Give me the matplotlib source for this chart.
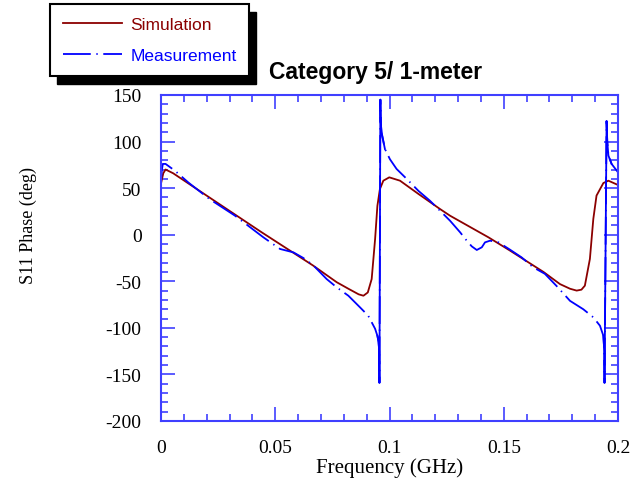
import matplotlib
matplotlib.use("Agg")
import matplotlib.pyplot as plt
from matplotlib.patches import Rectangle
from matplotlib.ticker import MultipleLocator

# simulated S11 phase (deg) vs frequency (GHz)
sim_f = [0, 0.001, 0.002, 0.0053, 0.0438, 0.0665, 0.0769, 0.082, 0.0865, 0.0886,
         0.0905, 0.0922, 0.0937, 0.0947, 0.0958, 0.0973, 0.0999, 0.1046, 0.1127,
         0.1221, 0.1265, 0.1433, 0.1527, 0.1674, 0.1746, 0.179, 0.1819, 0.184,
         0.1855, 0.1877, 0.1892, 0.1906, 0.1936, 0.1958, 0.2]
sim_deg = [55, 66, 70, 66, 3, -33, -51, -58, -64, -65.5,
           -62, -47.6, -4.6, 31, 49, 58, 61.6, 58, 43.7,
           27.6, 20.4, -2.8, -17, -40, -53, -58, -60, -59,
           -54.7, -26, 17, 42, 55.5, 58, 53.4]

# measured S11 phase
meas_f = [0, 0.0004, 0.0008, 0.002, 0.0061, 0.012, 0.0214, 0.0324, 0.0419, 0.0448,
          0.049, 0.0521, 0.058, 0.0623, 0.0667, 0.0725, 0.0769, 0.082, 0.0871, 0.0907,
          0.0937, 0.0947, 0.0952, 0.0955, 0.0956, 0.096, 0.0962, 0.0965, 0.098, 0.1002,
          0.1031, 0.1075, 0.1127, 0.1177, 0.1221, 0.1265, 0.1309, 0.1338, 0.136, 0.1382,
          0.1404, 0.1418, 0.144, 0.1477, 0.1527, 0.1578, 0.1629, 0.168, 0.1731, 0.179,
          0.1848, 0.1892, 0.1921, 0.1936, 0.194, 0.1941, 0.195, 0.1953, 0.1958, 0.1972, 0.2]
meas_deg = [58, 70, 76, 76, 68.7, 56, 38, 20.4, 2.6, -2.8,
            -10, -15.3, -19, -25, -33, -47.6, -56.5, -65.5, -78, -87,
            -101, -108.5, -115, -125, -159, 145, 120, 110, 92, 81,
            70.6, 60, 47, 36.5, 25.8, 15, 2.6, -6.4, -12.5, -16.4,
            -13.5, -8.2, -6.4, -8.2, -16, -24.3, -35, -42, -55, -71,
            -80, -88.7, -97.7, -108.5, -125, -159, 122, 100, 85, 76, 67]

xticks = [0, 0.05, 0.1, 0.15, 0.2]
xtick_labels = ["0", "0.05", "0.1", "0.15", "0.2"]
yticks = [-200, -150, -100, -50, 0, 50, 100, 150]

plt.rcParams['lines.scale_dashes'] = False
plt.rcParams['axes.unicode_minus'] = False
serif = ['Liberation Serif', 'DejaVu Serif']
sans = ['Liberation Sans', 'DejaVu Sans']
axis_blue = '#3f3fff'
meas_color = '#0000ff'

fig = plt.figure(figsize=(6.41, 4.81), dpi=100)
ax = fig.add_axes([161/641, 1-422/481, 457/641, 326/481])

ax.plot(sim_f, sim_deg, color='#8b0000', lw=1.3, label='Simulation')
ax.plot(meas_f, meas_deg, color=meas_color, lw=1.3, ls=(0, (20, 4, 1, 4)), label='Measurement')
# the steep parts around the resonances show up as solid strokes
for lo, hi in [(0.0945, 0.0985), (0.1935, 0.1975)]:
    idx = [i for i, f in enumerate(meas_f) if lo <= f <= hi]
    ax.plot([meas_f[i] for i in idx], [meas_deg[i] for i in idx], color=meas_color, lw=1.3)

ax.set_xlim(0, 0.2)
ax.set_ylim(-200, 150)
ax.set_xticks(xticks)
ax.set_xticklabels(xtick_labels)
ax.set_yticks(yticks)
ax.xaxis.set_minor_locator(MultipleLocator(0.01))
ax.yaxis.set_minor_locator(MultipleLocator(10))
ax.tick_params(which='both', direction='in', top=True, right=True, color=axis_blue, width=1.2)
ax.tick_params(which='major', length=10, labelsize=14)
ax.tick_params(axis='y', which='major', pad=14)
ax.tick_params(axis='x', which='major', pad=13)
ax.tick_params(which='minor', length=5)
for lab in ax.get_xticklabels() + ax.get_yticklabels():
    lab.set_family(serif)
for sp in ax.spines.values():
    sp.set_color(axis_blue)
    sp.set_linewidth(1.5)

ax.set_xlabel('Frequency (GHz)', family=serif, fontsize=15, labelpad=1)
fig.text(28/641, 1-226/481, 'S11 Phase (deg)', rotation=90, ha='center', va='center',
         family=serif, fontsize=13)
fig.text(376/641, 1-73/481, 'Category 5/ 1-meter', ha='center', va='center',
         family=sans, fontsize=16.5, fontweight='bold')

handles, labels = ax.get_legend_handles_labels()
leg = fig.legend(handles[:2], labels[:2], loc='upper left', bbox_to_anchor=(50/641, 1-5/481),
                 fancybox=False, edgecolor='black', framealpha=1, labelcolor='linecolor',
                 prop={'family': sans, 'size': 12.5}, handlelength=3.4, handletextpad=0.5,
                 borderpad=0.72, labelspacing=0.95, borderaxespad=0)
leg.get_frame().set_linewidth(1.5)

# black drop shadow behind the legend box
fig.canvas.draw()
bb = leg.get_window_extent()
shadow = Rectangle((bb.x0 + 7, bb.y0 - 8), bb.width, bb.height, transform=None,
                   facecolor='black', edgecolor='black', zorder=leg.get_zorder() - 1)
fig.add_artist(shadow)

fig.savefig('out.png', dpi=100)
